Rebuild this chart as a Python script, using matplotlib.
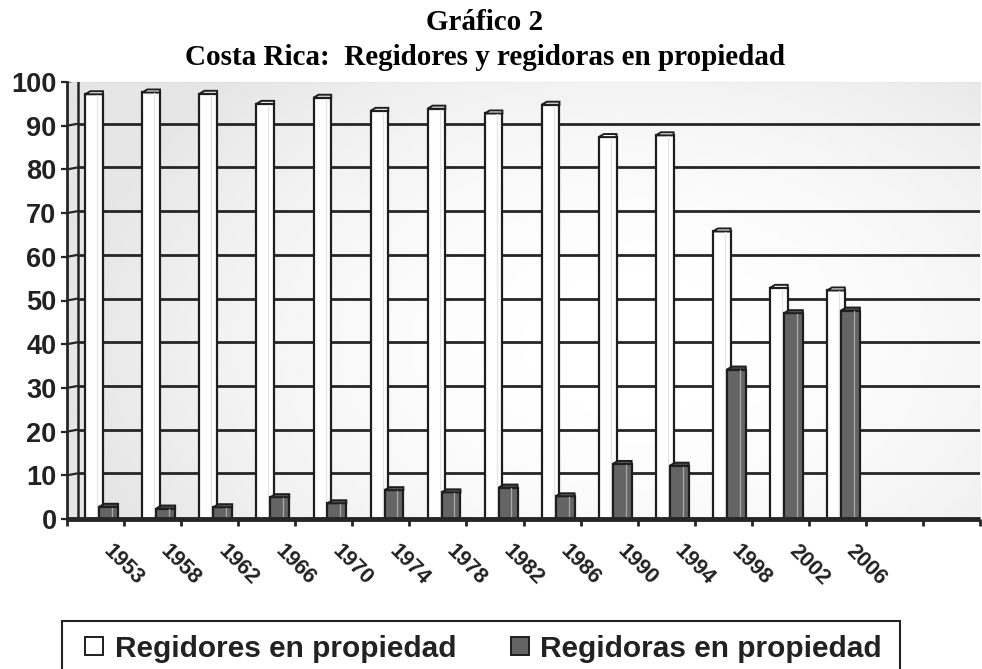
import numpy as np
import matplotlib
matplotlib.use("Agg")
import matplotlib.pyplot as plt
from matplotlib.patches import Polygon, Rectangle

# ---- data ----
years = ["1953", "1958", "1962", "1966", "1970", "1974", "1978", "1982",
         "1986", "1990", "1994", "1998", "2002", "2006"]
regidores = [97.2, 97.6, 97.3, 95.0, 96.4, 93.4, 93.9, 92.8, 94.8, 87.4, 87.8, 65.8, 52.9, 52.3]
regidoras = [2.8, 2.4, 2.7, 5.0, 3.6, 6.6, 6.1, 7.2, 5.2, 12.6, 12.2, 34.2, 47.1, 47.7]
n_slots = 16  # two empty category slots at the right
yticks = list(range(0, 101, 10))

title1 = "Gráfico 2"
title2 = "Costa Rica:  Regidores y regidoras en propiedad"
label_m = "Regidores en propiedad"
label_f = "Regidoras en propiedad"

W, H = 982, 669
fig = plt.figure(figsize=(W / 100, H / 100), dpi=100)
fig.patch.set_facecolor("white")

ax_l, ax_r, ax_b, ax_t = 67, 980, 519, 82
ax = fig.add_axes([ax_l / W, (H - ax_b) / H, (ax_r - ax_l) / W, (ax_b - ax_t) / H])
ax.set_xlim(0, n_slots)
ax.set_ylim(0, 100)

pxx = n_slots / (ax_r - ax_l)   # data units per pixel (x)
pxy = 100 / (ax_b - ax_t)       # data units per pixel (y)
wall_dx = 11 * pxx
wall_dy = 2 * pxy

# background gradient
gx, gy = np.meshgrid(np.linspace(0, 1, 300), np.linspace(0, 1, 200))
g = 1 - 0.10 * np.clip(((gx - 0.62) / 0.62) ** 2 + ((gy - 0.40) / 0.85) ** 2, 0, 1)
ax.imshow(g, cmap="gray", vmin=0, vmax=1, extent=[0, 1, 0, 1], origin="lower",
          transform=ax.transAxes, aspect="auto", zorder=0, interpolation="bilinear")

grid_c = "#262626"
for v in yticks[1:]:
    lw = 2.2 if v == 100 else 2.0
    ax.plot([wall_dx, n_slots], [v + wall_dy, v + wall_dy], color=grid_c, lw=lw, zorder=1,
            solid_capstyle="butt")
    ax.plot([0, wall_dx], [v, v + wall_dy], color=grid_c, lw=1.6, zorder=1)
# back wall left edge
ax.plot([wall_dx, wall_dx], [0, 100 + wall_dy], color=grid_c, lw=1.8, zorder=1)
# floor
ax.plot([0, n_slots], [0, 0], color=grid_c, lw=3.5, zorder=5, solid_capstyle="butt", clip_on=False)

for s in ["top", "right", "bottom"]:
    ax.spines[s].set_visible(False)
ax.spines["left"].set_color(grid_c)
ax.spines["left"].set_linewidth(2)

ax.set_yticks(yticks)
ax.set_yticklabels([str(t) for t in yticks], fontsize=19.5, fontweight="bold",
                   family="Liberation Sans", color="#222222")
ax.tick_params(axis="y", length=4, width=1.6, pad=3.5, color=grid_c)
ax.set_xticks(range(0, n_slots + 1))
ax.set_xticklabels([])
ax.tick_params(axis="x", length=5, width=2, color=grid_c)

# bars
x = np.arange(len(years))
w_m_off, w_m = 0.32, 0.31
w_f_off, w_f = 0.565, 0.33
top_dx = 5 * pxx
top_dy = 3 * pxy

def draw_bars(offset, width, values, face, top_face, line_c, z):
    ax.bar(x + offset, values, width=width, align="edge", color=face,
           edgecolor="#1e1e1e", linewidth=1.6, zorder=z)
    for xi, v in zip(x + offset, values):
        ax.add_patch(Polygon([(xi, v), (xi + top_dx, v + top_dy),
                              (xi + width, v + top_dy), (xi + width, v)],
                             closed=True, facecolor=top_face, edgecolor="#1e1e1e",
                             linewidth=1.4, zorder=z))
        ax.plot([xi + width * 0.68] * 2, [0.6, v - 0.2], color=line_c, lw=0.9, zorder=z + 0.1)

draw_bars(w_m_off, w_m, regidores, "white", "white", "#e4e4e4", 3)
draw_bars(w_f_off, w_f, regidoras, "#646464", "#5a5a5a", "#a8a8a8", 4)

# x labels
for i, yr in enumerate(years):
    ax.text(i + 0.83, -5.0, yr, rotation=-45, rotation_mode="anchor", ha="left", va="top",
            fontsize=15.5, fontweight="bold", family="Liberation Sans", color="#222222",
            clip_on=False)

# title
fig.text(485 / W, 1 - 30 / H, title1, ha="center", va="baseline", fontsize=21,
         fontweight="bold", family="Liberation Serif")
fig.text(485 / W, 1 - 65 / H, title2, ha="center", va="baseline", fontsize=21,
         fontweight="bold", family="Liberation Serif")

# legend (drawn manually to match the boxed layout)
fig.add_artist(Rectangle((62 / W, (H - 675) / H), (900 - 62) / W, 54 / H,
                         transform=fig.transFigure, fill=False, edgecolor="#222222",
                         linewidth=1.5))
sq = 18
for (sx, tx, face, lab) in [(85, 115, "white", label_m), (511, 540, "#646464", label_f)]:
    fig.add_artist(Rectangle((sx / W, (H - 655) / H), sq / W, sq / H,
                             transform=fig.transFigure, facecolor=face,
                             edgecolor="#1e1e1e", linewidth=1.4))
    fig.text(tx / W, 1 - 646 / H, lab, ha="left", va="center_baseline", fontsize=21.5,
             fontweight="bold", family="Liberation Sans", color="#222222")

fig.savefig("out.png", dpi=100)
